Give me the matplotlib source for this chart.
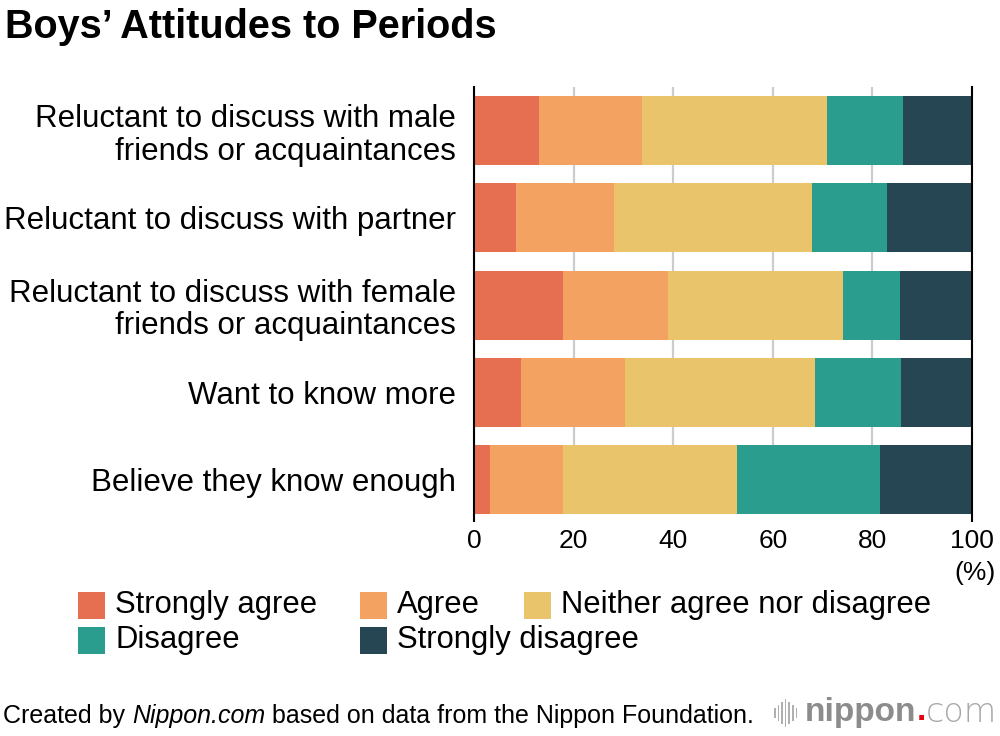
import matplotlib
matplotlib.use("Agg")
import matplotlib.pyplot as plt
from matplotlib.patches import Rectangle

plt.rcParams['font.family'] = ['Liberation Sans', 'DejaVu Sans']

categories = [
    "Reluctant to discuss with male\nfriends or acquaintances",
    "Reluctant to discuss with partner",
    "Reluctant to discuss with female\nfriends or acquaintances",
    "Want to know more",
    "Believe they know enough",
]
series_names = ["Strongly agree", "Agree", "Neither agree nor disagree", "Disagree", "Strongly disagree"]
strongly_agree = [13.0, 8.4, 17.8, 9.4, 3.2]
agree = [20.8, 19.8, 21.2, 21.0, 14.6]
neither = [37.0, 39.6, 35.0, 38.0, 35.0]
disagree = [15.3, 15.2, 11.6, 17.3, 28.7]
strongly_disagree = [13.9, 17.0, 14.4, 14.3, 18.5]
series = [strongly_agree, agree, neither, disagree, strongly_disagree]
colors = ["#E76F51", "#F4A261", "#E9C46A", "#2A9D8F", "#264653"]
xticks = [0, 20, 40, 60, 80, 100]

W, H = 1000, 736
fig = plt.figure(figsize=(W/100, H/100), dpi=100)
ax = fig.add_axes([474/W, 1-514/H, 498/W, (514-87)/H])

ypos = list(range(len(categories)))
left = [0.0]*len(categories)
for vals, col, name in zip(series, colors, series_names):
    ax.barh(ypos, vals, left=left, height=0.79, color=col, label=name, zorder=3)
    left = [l+v for l, v in zip(left, vals)]

ax.set_xlim(0, 100)
ax.set_ylim(4.395, -0.5)
ax.set_yticks(ypos)
ax.set_yticklabels(categories, fontsize=22.5, linespacing=1.12, ha='right')
ax.tick_params(axis='y', length=0, pad=13)
for lbl in ax.get_yticklabels():
    lbl.set_va('center_baseline')
ax.set_xticks(xticks)
ax.set_xticklabels([str(t) for t in xticks], fontsize=19)
ax.tick_params(axis='x', length=6, width=1.5, color='black', pad=5)
for i, t in enumerate(ax.xaxis.get_major_ticks()):
    if 0 < i < len(xticks)-1:
        t.tick1line.set_visible(False)
ax.grid(axis='x', color='#cccccc', linewidth=1.6, zorder=0)
for s in ['top', 'bottom']:
    ax.spines[s].set_visible(False)
for s in ['left', 'right']:
    ax.spines[s].set_linewidth(1.5)
    ax.spines[s].set_zorder(5)
fig.text(996/W, 1-573/H, "(%)", fontsize=19, ha='right', va='center')

# title
fig.text(5/W, 1-27/H, "Boys\u2019 Attitudes to Periods", fontsize=28.5, fontweight='bold', ha='left', va='center')

# legend (flow layout)
leg_items = [(0, 78, 605), (1, 360, 605), (2, 524, 605), (3, 78, 640), (4, 360, 640)]
for idx, x, y in leg_items:
    fig.patches.append(Rectangle((x/W, 1-(y+13.5)/H), 27/W, 27/H, transform=fig.transFigure,
                                 facecolor=colors[idx], edgecolor='none'))
    fig.text((x+37)/W, 1-y/H, series_names[idx], fontsize=22.3, ha='left', va='center')

# footer
fig.canvas.draw()
r = fig.canvas.get_renderer()
parts = [("Created by ", 'normal'), ("Nippon.com", 'italic'), (" based on data from the Nippon Foundation.", 'normal')]
x = 3
for txt, style in parts:
    t = fig.text(x/W, 1-716/H, txt, fontsize=18, style=style, ha='left', va='center')
    x += t.get_window_extent(r).width

# logo
for i, hgt in enumerate([10, 16, 22, 28, 22, 16, 10]):
    xb = 774 + i*3.6
    fig.patches.append(Rectangle((xb/W, 1-(713+hgt/2)/H), 1.6/W, hgt/H, transform=fig.transFigure,
                                 facecolor='#b0b0b0', edgecolor='none'))
x = 805
for txt, col, wt in [("nippon", '#8c8c8c', 'bold'), (".", '#e60012', 'bold'), ("com", '#a8a8a8', 'light')]:
    t = fig.text(x/W, 1-712/H, txt, fontsize=24, color=col, fontweight=wt, ha='left', va='center',
                 family=['DejaVu Sans'] if wt == 'light' else None)
    x += t.get_window_extent(r).width

fig.savefig("out.png", dpi=100)
